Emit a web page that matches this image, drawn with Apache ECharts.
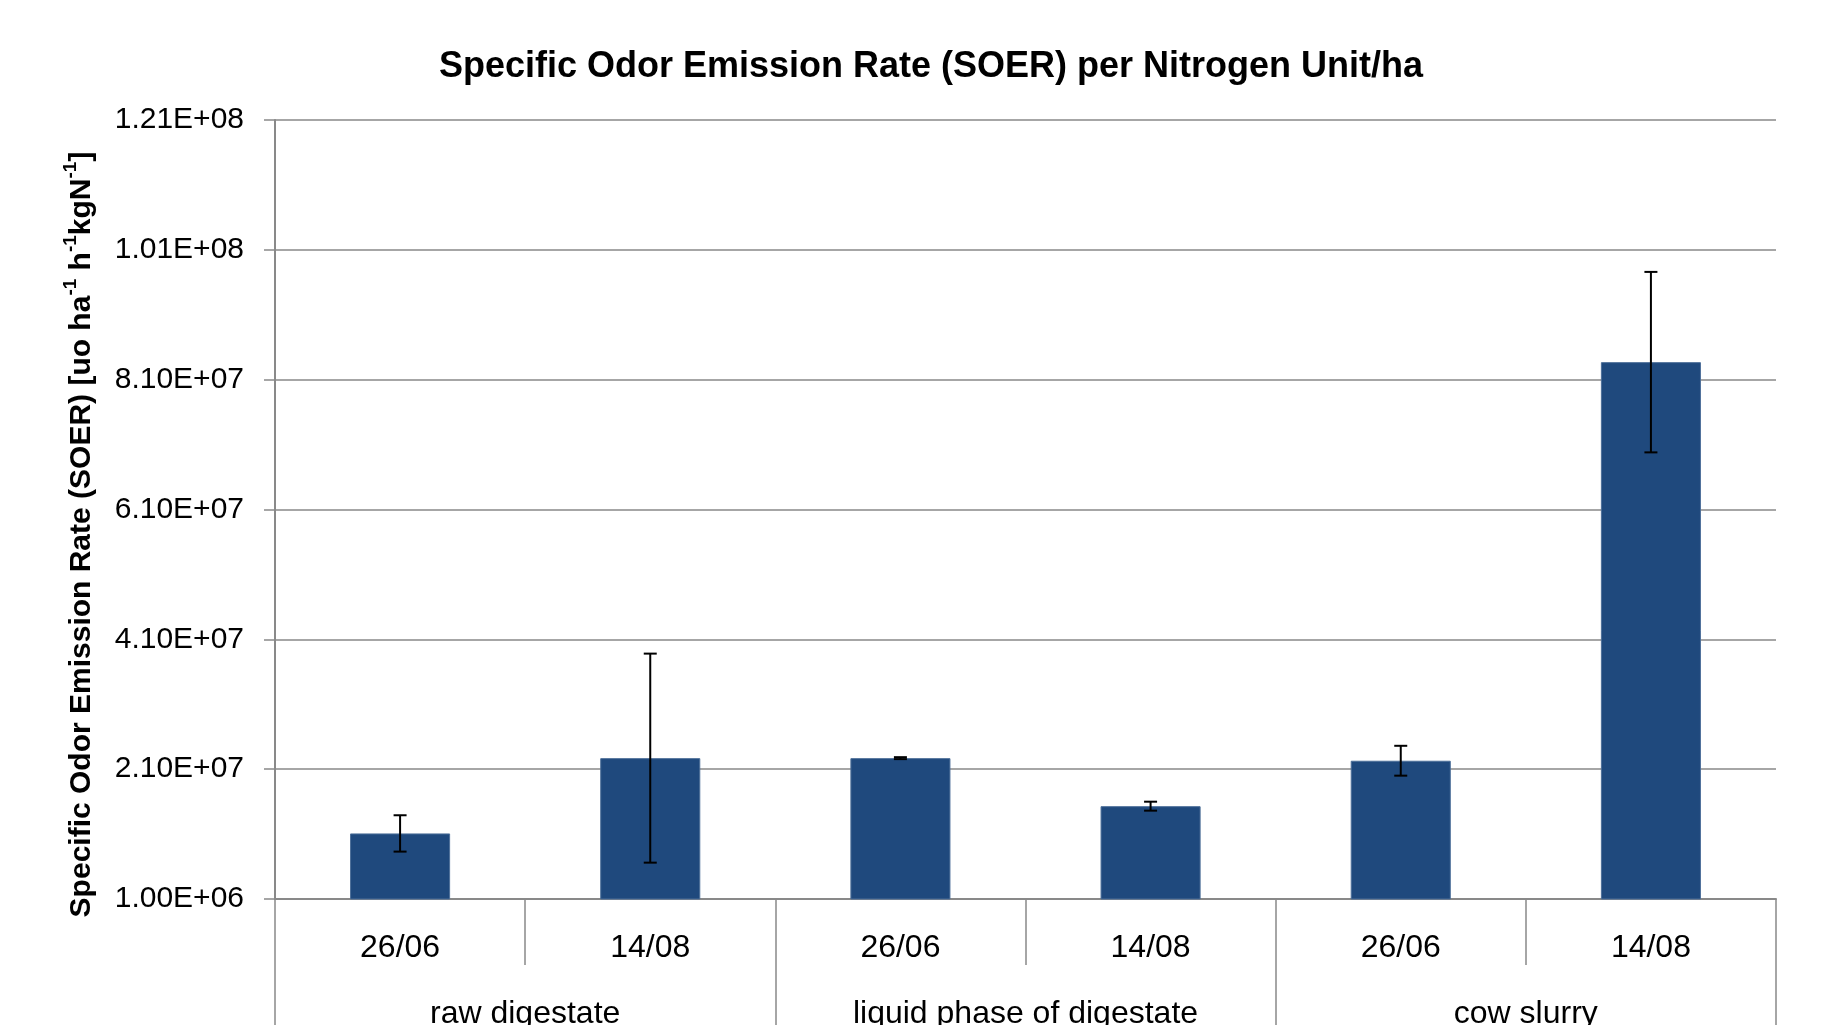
<!DOCTYPE html>
<html>
<head>
<meta charset="utf-8">
<script src="https://cdn.jsdelivr.net/npm/echarts@6/dist/echarts.min.js"></script>
<style>html,body{margin:0;padding:0;background:#fff}#c{width:1828px;height:1025px}</style>
</head>
<body>
<div id="c"></div>
<script>
const dates = ['26/06','14/08','26/06','14/08','26/06','14/08'];
const groups = ['raw digestate','liquid phase of digestate','cow slurry'];
const soer = [1.11e7, 2.27e7, 2.27e7, 1.53e7, 2.23e7, 8.37e7];
const soerErr = [2.8e6, 1.61e7, 1.5e5, 6.9e5, 2.3e6, 1.39e7];
const yMin = 1e6, yMax = 1.21e8, yStep = 2e7;

const FONT = 'Liberation Sans';
const errData = soer.map((v, i) => [i, v - soerErr[i], v + soerErr[i]]);

function fmt(v) {
  const s = v.toExponential(2).toUpperCase();
  return s.replace(/E([+-])(\d)$/, 'E$10$2');
}

const chart = echarts.init(document.getElementById('c'), null, {renderer: 'canvas'});
chart.setOption({
  animation: false,
  backgroundColor: '#ffffff',
  title: {
    text: 'Specific Odor Emission Rate (SOER) per Nitrogen Unit/ha',
    left: 926, top: 44, textAlign: 'center',
    textStyle: {fontFamily: FONT, fontWeight: 'bold', fontSize: 36, color: '#000'}
  },
  grid: {left: 275, right: 52, top: 120, bottom: 126, containLabel: false, outerBoundsMode: 'none'},
  xAxis: [
    {
      type: 'category', data: dates, position: 'bottom',
      axisLine: {show: true, lineStyle: {color: '#898989', width: 2}},
      axisTick: {show: true, length: 66, interval: 0, lineStyle: {color: '#898989', width: 1.5}},
      axisLabel: {interval: 0, margin: 33, fontFamily: FONT, fontSize: 32, color: '#000'}
    },
    {
      type: 'category', data: groups, position: 'bottom',
      axisLine: {show: false},
      axisTick: {show: true, length: 140, interval: 0, lineStyle: {color: '#898989', width: 1.5}},
      axisLabel: {interval: 0, margin: 99, fontFamily: FONT, fontSize: 32, color: '#000'}
    }
  ],
  yAxis: {
    type: 'value', min: yMin, max: yMax, interval: yStep,
    name: '{m|Specific Odor Emission Rate (SOER) [uo ha}{s|-1}{m| h}{s|-1}{m|kgN}{s|-1}{m|]}',
    nameLocation: 'middle', nameGap: 178, nameRotate: 90,
    nameTextStyle: {
      padding: [0, 50, 0, 0],
      rich: {
        m: {fontFamily: FONT, fontWeight: 'bold', fontSize: 30, color: '#000', lineHeight: 36, verticalAlign: 'bottom'},
        s: {fontFamily: FONT, fontWeight: 'bold', fontSize: 19, color: '#000', lineHeight: 36, verticalAlign: 'top'}
      }
    },
    axisLine: {show: true, lineStyle: {color: '#898989', width: 2}},
    axisTick: {show: true, inside: false, length: 11, lineStyle: {color: '#898989', width: 1.5}},
    axisLabel: {margin: 31, formatter: fmt, fontFamily: FONT, fontSize: 30, color: '#000'},
    splitLine: {show: true, lineStyle: {color: '#898989', width: 1.5}}
  },
  series: [
    {
      type: 'bar', data: soer, barWidth: '40%', xAxisIndex: 0,
      itemStyle: {color: '#1F497D', borderColor: '#4d6f99', borderWidth: 1}
    },
    {
      type: 'custom', xAxisIndex: 0, data: errData, z: 5,
      renderItem: function (params, api) {
        const x = api.value(0);
        const lo = api.coord([x, api.value(1)]);
        const hi = api.coord([x, api.value(2)]);
        const hw = 6.5;
        const st = {stroke: '#000', lineWidth: 2};
        return {
          type: 'group',
          children: [
            {type: 'line', shape: {x1: hi[0], y1: hi[1], x2: lo[0], y2: lo[1]}, style: st},
            {type: 'line', shape: {x1: hi[0] - hw, y1: hi[1], x2: hi[0] + hw, y2: hi[1]}, style: st},
            {type: 'line', shape: {x1: lo[0] - hw, y1: lo[1], x2: lo[0] + hw, y2: lo[1]}, style: st}
          ]
        };
      }
    }
  ]
});
</script>
</body>
</html>
